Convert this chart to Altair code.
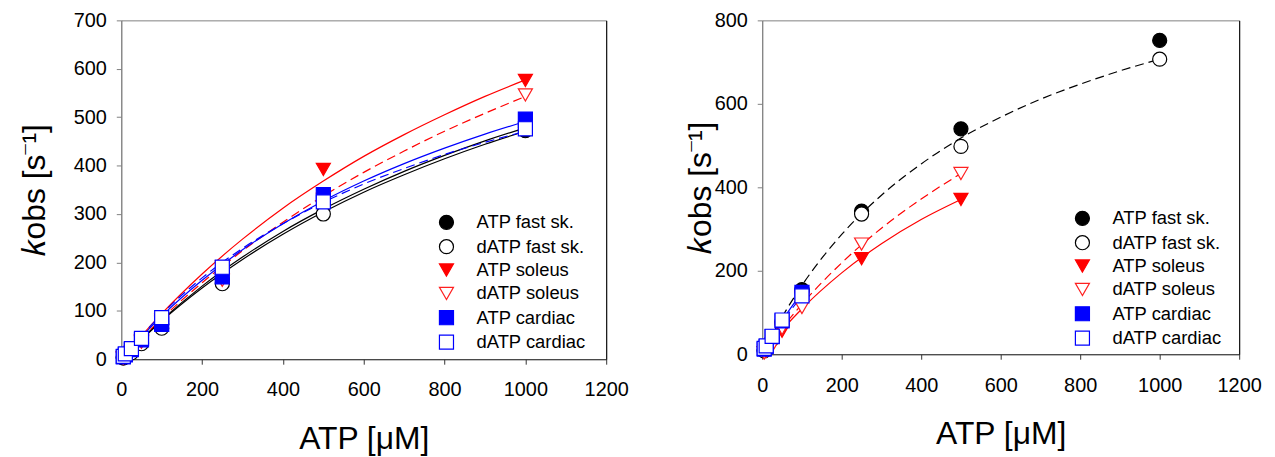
import altair as alt
import pandas as pd

FONT = "Liberation Sans"

SERIES = ["ATP fast sk.", "dATP fast sk.", "ATP soleus", "dATP soleus", "ATP cardiac", "dATP cardiac"]

# ---- measured concentrations (µM) ----
conc = [5, 10, 25, 50, 100, 250, 500, 1000]

# ---- left panel: kobs values (s^-1) ----
L_atp_fast = [3, 6, 15, 35, 72, 165, 318, 472]
L_datp_fast = [3, 5, 13, 32, 64, 156, 300, 478]
L_atp_sol = [2, 5, 14, 37, 80, 190, 392, 576]
L_datp_sol = [2, 4, 14, 35, 76, 163, 330, 546]
L_atp_card = [5, 9, 20, 40, 72, 170, 340, 496]
L_datp_card = [6, 11, 22, 43, 86, 190, 325, 476]

# ---- left panel: fitted curves ----
L_curve_x = [0, 100, 200, 300, 400, 500, 600, 700, 800, 900, 1000]
L_curve_atp_fast = [0, 81, 151, 211, 264, 310, 351, 388, 421, 451, 478]
L_curve_datp_fast = [0, 79, 147, 206, 258, 304, 345, 381, 414, 444, 471]
L_curve_atp_sol = [0, 94, 176, 248, 312, 368, 419, 464, 505, 543, 577]
L_curve_datp_sol = [0, 84, 158, 224, 283, 337, 386, 430, 471, 508, 543]
L_curve_atp_card = [0, 89, 163, 226, 280, 327, 368, 404, 436, 465, 491]
L_curve_datp_card = [0, 93, 168, 229, 280, 324, 362, 394, 423, 448, 471]

# ---- right panel: kobs values ----
R_conc_fast = [5, 10, 25, 50, 100, 250, 500, 1000]
R_atp_fast = [10, 16, 38, 78, 155, 343, 540, 752]
R_datp_fast = [8, 14, 36, 75, 150, 336, 498, 707]
R_conc_sol = [5, 10, 25, 50, 100, 250, 500]
R_atp_sol = [4, 8, 22, 55, 135, 229, 371]
R_datp_sol = [3, 7, 20, 62, 112, 264, 433]
R_conc_card = [5, 10, 25, 50, 100]
R_atp_card = [12, 18, 42, 80, 148]
R_datp_card = [14, 20, 43, 82, 140]

# ---- right panel: fitted curves ----
R_curve_x_fast = [0, 50, 100, 200, 300, 400, 500, 600, 700, 800, 900, 1000]
R_curve_datp_fast = [0, 89, 165, 287, 381, 456, 518, 568, 611, 647, 679, 707]
R_curve_x_sol = [0, 50, 100, 200, 300, 400, 500]
R_curve_atp_sol = [0, 58, 109, 195, 265, 323, 371]
R_curve_datp_sol = [0, 63, 120, 219, 302, 372, 433]
R_curve_x_card = [0, 50, 100]
R_curve_atp_card = [0, 80, 148]
R_curve_datp_card = [0, 76, 140]


def frame(series_x_y, key):
    rows = []
    for name, xs, ys in series_x_y:
        for a, b in zip(xs, ys):
            rows.append({key: name, "x": a, "y": b})
    return pd.DataFrame(rows)


L_pts = frame([
    ("ATP fast sk.", conc, L_atp_fast), ("dATP fast sk.", conc, L_datp_fast),
    ("ATP soleus", conc, L_atp_sol), ("dATP soleus", conc, L_datp_sol),
    ("ATP cardiac", conc, L_atp_card), ("dATP cardiac", conc, L_datp_card)], "series")
L_crv = frame([
    ("ATP fast sk.", L_curve_x, L_curve_atp_fast), ("dATP fast sk.", L_curve_x, L_curve_datp_fast),
    ("ATP soleus", L_curve_x, L_curve_atp_sol), ("dATP soleus", L_curve_x, L_curve_datp_sol),
    ("ATP cardiac", L_curve_x, L_curve_atp_card), ("dATP cardiac", L_curve_x, L_curve_datp_card)], "fit")
R_pts = frame([
    ("ATP fast sk.", R_conc_fast, R_atp_fast), ("dATP fast sk.", R_conc_fast, R_datp_fast),
    ("ATP soleus", R_conc_sol, R_atp_sol), ("dATP soleus", R_conc_sol, R_datp_sol),
    ("ATP cardiac", R_conc_card, R_atp_card), ("dATP cardiac", R_conc_card, R_datp_card)], "series")
R_crv = frame([
    ("dATP fast sk.", R_curve_x_fast, R_curve_datp_fast),
    ("ATP soleus", R_curve_x_sol, R_curve_atp_sol), ("dATP soleus", R_curve_x_sol, R_curve_datp_sol),
    ("ATP cardiac", R_curve_x_card, R_curve_atp_card), ("dATP cardiac", R_curve_x_card, R_curve_datp_card)], "fit")

shape_range = ["circle", "circle", "triangle-down", "triangle-down", "square", "square"]
stroke_range = ["#000000", "#000000", "#ff0000", "#ff2020", "#0000ff", "#0000ff"]
fill_range = ["#000000", "#ffffff", "#ff0000", "#ffffff", "#0000ff", "#ffffff"]
LINE_COLOR = dict(zip(SERIES, ["#000000", "#000000", "#ff0000", "#ff0000", "#0000ff", "#0000ff"]))
DASH = [9, 5]
L_dashed = {"dATP soleus", "dATP cardiac"}
R_dashed = {"dATP fast sk.", "dATP soleus", "dATP cardiac"}

YTITLE = "\U0001D458obs [s\u207b\u00b9]"


def panel(pts, crv, ymax, ystep, dashed, legx, legy, w, h, ytpad):
    xscale = alt.Scale(domain=[0, 1200], nice=False, zero=True)
    yscale = alt.Scale(domain=[0, ymax], nice=False)
    xaxis = alt.Axis(values=list(range(0, 1201, 200)), title="ATP [μM]", grid=False, format="d",
                     domainColor="#333333", tickColor="#333333", tickSize=5,
                     labelFontSize=20, labelFont=FONT, labelColor="black", labelPadding=16,
                     titleFontSize=32, titleFont=FONT, titleFontWeight="normal", titleColor="black",
                     titlePadding=24, labelFlush=False)
    yaxis = alt.Axis(values=list(range(0, ymax + 1, ystep)), title=YTITLE, grid=False, format="d",
                     domainColor="#808080", tickColor="#808080", tickSize=5,
                     labelFontSize=20, labelFont=FONT, labelColor="black", labelPadding=10,
                     titleFontSize=32, titleFont=FONT, titleFontWeight="normal", titleColor="black",
                     titlePadding=ytpad)
    legend = alt.Legend(title=None, orient="none", legendX=legx, legendY=legy,
                        labelFontSize=18.5, labelFont=FONT, labelColor="black",
                        symbolSize=200, symbolStrokeWidth=1.2, labelOffset=21, rowPadding=4.5)
    layers = []
    for name in SERIES:
        if name not in set(crv["fit"]):
            continue
        props = dict(strokeWidth=1.2, interpolate="monotone", color=LINE_COLOR[name])
        if name in dashed:
            props["strokeDash"] = DASH
        layers.append(
            alt.Chart(crv).transform_filter(alt.datum.fit == name).mark_line(**props).encode(
                x=alt.X("x:Q", scale=xscale, axis=xaxis),
                y=alt.Y("y:Q", scale=yscale, axis=yaxis),
                order="x:Q",
            )
        )
    points = alt.Chart(pts).mark_point(size=200, filled=False, fillOpacity=1, opacity=1, strokeWidth=1.2).encode(
        x=alt.X("x:Q", scale=xscale, axis=xaxis),
        y=alt.Y("y:Q", scale=yscale, axis=yaxis),
        shape=alt.Shape("series:N", scale=alt.Scale(domain=SERIES, range=shape_range), legend=legend),
        stroke=alt.Stroke("series:N", scale=alt.Scale(domain=SERIES, range=stroke_range), legend=legend),
        fill=alt.Fill("series:N", scale=alt.Scale(domain=SERIES, range=fill_range), legend=legend),
    )
    layers.append(points)
    right = alt.Chart(pts).mark_rule(opacity=0).encode(
        y=alt.Y("y:Q", scale=alt.Scale(domain=[0, ymax], nice=False),
                axis=alt.Axis(orient="right", labels=False, ticks=False, title=None, grid=False,
                              domainColor="#000000")),
    )
    inner = alt.layer(*layers)
    return alt.layer(inner, right).resolve_scale(y="independent").properties(width=w, height=h)


left = panel(L_pts, L_crv, 700, 100, L_dashed, 318, 194, 488, 341, 22)
rightp = panel(R_pts, R_crv, 800, 200, R_dashed, 313, 190, 480, 336, -3)

chart = alt.hconcat(left, rightp, spacing=55).resolve_scale(
    shape="independent", stroke="independent", fill="independent"
).properties(
    padding={"left": 10, "top": 0, "right": 5, "bottom": 5}
).configure(font=FONT).configure_view(stroke="#808080", strokeWidth=1)

chart.save("out.html", embed_options={"renderer": "svg", "actions": False})
